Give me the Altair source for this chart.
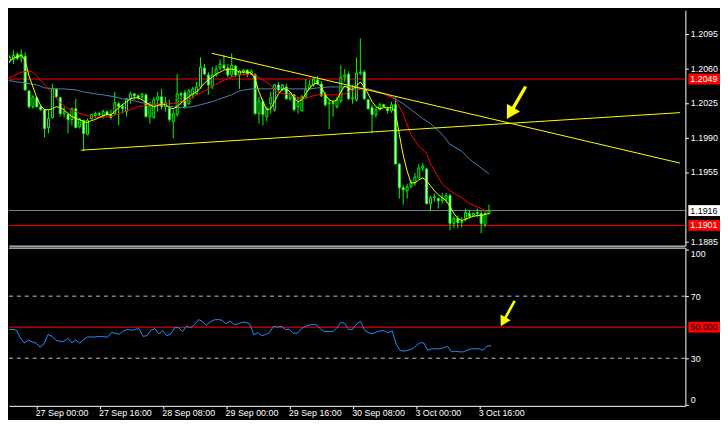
import altair as alt
import pandas as pd

# ---------------- data (EURUSD H1) ----------------
bar_open = [
    1.2067, 1.2069, 1.2074, 1.2071, 1.2072, 1.2037, 1.2021, 1.2030, 1.2021, 1.2018,
    1.2000, 1.2010, 1.2039, 1.2030, 1.2014, 1.2013, 1.2008, 1.2019, 1.2001, 1.2007,
    1.1993, 1.2009, 1.2012, 1.2014, 1.2012, 1.2016, 1.2013, 1.2014, 1.2024, 1.2021,
    1.2016, 1.2029, 1.2034, 1.2032, 1.2031, 1.2033, 1.2011, 1.2010, 1.2028, 1.2031,
    1.2021, 1.2019, 1.2006, 1.2013, 1.2034, 1.2035, 1.2024, 1.2033, 1.2034, 1.2041,
    1.2060, 1.2053, 1.2041, 1.2053, 1.2060, 1.2063, 1.2060, 1.2053, 1.2062, 1.2053,
    1.2056, 1.2058, 1.2054, 1.2054, 1.2014, 1.2026, 1.2011, 1.2024, 1.2018, 1.2043,
    1.2038, 1.2041, 1.2029, 1.2033, 1.2021, 1.2017, 1.2031, 1.2039, 1.2043, 1.2048,
    1.2044, 1.2033, 1.2024, 1.2025, 1.2021, 1.2027, 1.2051, 1.2054, 1.2029, 1.2028,
    1.2055, 1.2056, 1.2028, 1.2020, 1.2013, 1.2018, 1.2023, 1.2019, 1.2017, 1.2023,
    1.1963, 1.1939, 1.1936, 1.1940, 1.1944, 1.1949, 1.1959, 1.1958, 1.1923, 1.1929,
    1.1928, 1.1926, 1.1928, 1.1931, 1.1903, 1.1908, 1.1904, 1.1908, 1.1913, 1.1911,
    1.1913, 1.1913, 1.1902, 1.1913,
]
bar_high = [
    1.2073, 1.2078, 1.2076, 1.2079, 1.2076, 1.2038, 1.2033, 1.2031, 1.2023, 1.2019,
    1.2018, 1.2044, 1.2040, 1.2031, 1.2021, 1.2015, 1.2020, 1.2029, 1.2010, 1.2008,
    1.2009, 1.2013, 1.2016, 1.2016, 1.2018, 1.2017, 1.2018, 1.2036, 1.2026, 1.2024,
    1.2030, 1.2036, 1.2034, 1.2033, 1.2035, 1.2034, 1.2026, 1.2031, 1.2036, 1.2039,
    1.2031, 1.2028, 1.2018, 1.2054, 1.2036, 1.2038, 1.2039, 1.2041, 1.2046, 1.2071,
    1.2064, 1.2056, 1.2061, 1.2063, 1.2069, 1.2073, 1.2064, 1.2075, 1.2063, 1.2058,
    1.2059, 1.2059, 1.2059, 1.2054, 1.2031, 1.2029, 1.2021, 1.2036, 1.2044, 1.2046,
    1.2044, 1.2044, 1.2036, 1.2033, 1.2031, 1.2033, 1.2049, 1.2048, 1.2051, 1.2052,
    1.2047, 1.2036, 1.2029, 1.2028, 1.2031, 1.2063, 1.2059, 1.2057, 1.2043, 1.2071,
    1.2090, 1.2058, 1.2029, 1.2023, 1.2020, 1.2025, 1.2024, 1.2021, 1.2026, 1.2031,
    1.1964, 1.1942, 1.1943, 1.1947, 1.1954, 1.1963, 1.1964, 1.1959, 1.1931, 1.1933,
    1.1929, 1.1934, 1.1934, 1.1933, 1.1910, 1.1911, 1.1909, 1.1918, 1.1916, 1.1914,
    1.1918, 1.1916, 1.1916, 1.1922,
]
bar_low = [
    1.2065, 1.2064, 1.2068, 1.2066, 1.2037, 1.2019, 1.2019, 1.2020, 1.2017, 1.1990,
    1.1994, 1.2009, 1.2030, 1.2011, 1.2010, 1.1994, 1.2002, 1.1999, 1.1999, 1.1976,
    1.1992, 1.2008, 1.2009, 1.2011, 1.2009, 1.2012, 1.2008, 1.2013, 1.2002, 1.2014,
    1.2011, 1.2024, 1.2028, 1.2028, 1.2028, 1.2010, 1.2004, 1.2009, 1.2016, 1.2018,
    1.2016, 1.2006, 1.1989, 1.2011, 1.2023, 1.2019, 1.2023, 1.2029, 1.2033, 1.2039,
    1.2053, 1.2033, 1.2039, 1.2051, 1.2058, 1.2059, 1.2051, 1.2051, 1.2051, 1.2039,
    1.2053, 1.2051, 1.2053, 1.2013, 1.2004, 1.2002, 1.2006, 1.2014, 1.2016, 1.2036,
    1.2037, 1.2028, 1.2027, 1.2016, 1.2014, 1.2016, 1.2029, 1.2038, 1.2041, 1.2043,
    1.2031, 1.2021, 1.1998, 1.2011, 1.2019, 1.2025, 1.2046, 1.2028, 1.2024, 1.2026,
    1.2053, 1.2028, 1.2018, 1.1994, 1.2010, 1.2017, 1.2020, 1.2014, 1.2015, 1.1963,
    1.1928, 1.1922, 1.1928, 1.1939, 1.1941, 1.1949, 1.1956, 1.1922, 1.1916, 1.1925,
    1.1918, 1.1923, 1.1924, 1.1896, 1.1898, 1.1898, 1.1899, 1.1905, 1.1908, 1.1910,
    1.1909, 1.1893, 1.1899, 1.1912,
]
bar_close = [
    1.2071, 1.2073, 1.2070, 1.2074, 1.2038, 1.2021, 1.2031, 1.2021, 1.2018, 1.1999,
    1.2009, 1.2039, 1.2031, 1.2014, 1.2016, 1.2008, 1.2019, 1.2000, 1.2008, 1.1994,
    1.2007, 1.2013, 1.2014, 1.2013, 1.2016, 1.2013, 1.2010, 1.2025, 1.2021, 1.2019,
    1.2029, 1.2034, 1.2032, 1.2030, 1.2034, 1.2011, 1.2022, 1.2028, 1.2031, 1.2021,
    1.2025, 1.2008, 1.2014, 1.2034, 1.2033, 1.2021, 1.2037, 1.2039, 1.2041, 1.2061,
    1.2054, 1.2043, 1.2053, 1.2059, 1.2064, 1.2060, 1.2053, 1.2063, 1.2053, 1.2057,
    1.2058, 1.2054, 1.2057, 1.2014, 1.2027, 1.2013, 1.2019, 1.2030, 1.2043, 1.2038,
    1.2043, 1.2029, 1.2035, 1.2018, 1.2025, 1.2031, 1.2039, 1.2043, 1.2049, 1.2044,
    1.2032, 1.2023, 1.2025, 1.2024, 1.2028, 1.2051, 1.2053, 1.2029, 1.2030, 1.2055,
    1.2056, 1.2029, 1.2019, 1.2013, 1.2018, 1.2023, 1.2021, 1.2017, 1.2023, 1.1963,
    1.1939, 1.1937, 1.1940, 1.1944, 1.1950, 1.1959, 1.1961, 1.1923, 1.1929, 1.1930,
    1.1926, 1.1928, 1.1931, 1.1903, 1.1908, 1.1904, 1.1905, 1.1914, 1.1910, 1.1913,
    1.1914, 1.1903, 1.1913, 1.1916,
]
bar_index = list(range(len(bar_open)))   # hourly bars, 0 = 26 Sep 16:00

# fast MA (yellow)
ma_fast_bar = [-1, 1, 3] + list(range(4, 124))
ma_fast = [
    1.2064, 1.2070, 1.2073,
    1.2068, 1.2052, 1.2041, 1.2030, 1.2022, 1.2018, 1.2018, 1.2019, 1.2021, 1.2020,
    1.2018, 1.2014, 1.2011, 1.2009, 1.2008, 1.2006, 1.2005, 1.2007, 1.2008, 1.2010,
    1.2012, 1.2013, 1.2013, 1.2016, 1.2020, 1.2023, 1.2026, 1.2029, 1.2030, 1.2030,
    1.2028, 1.2025, 1.2023, 1.2021, 1.2022, 1.2024, 1.2023, 1.2020, 1.2019, 1.2021,
    1.2025, 1.2028, 1.2031, 1.2034, 1.2036, 1.2040, 1.2045, 1.2048, 1.2051, 1.2054,
    1.2056, 1.2058, 1.2059, 1.2059, 1.2058, 1.2056, 1.2056, 1.2056, 1.2055, 1.2049,
    1.2036, 1.2026, 1.2018, 1.2019, 1.2026, 1.2034, 1.2039, 1.2039, 1.2036, 1.2030,
    1.2026, 1.2028, 1.2034, 1.2040, 1.2044, 1.2045, 1.2041, 1.2033, 1.2028, 1.2026,
    1.2028, 1.2036, 1.2042, 1.2040, 1.2038, 1.2042, 1.2046, 1.2041, 1.2034, 1.2026,
    1.2021, 1.2019, 1.2020, 1.2020, 1.2020, 1.2016, 1.1993, 1.1972, 1.1956, 1.1944,
    1.1944, 1.1947, 1.1949, 1.1946, 1.1941, 1.1936, 1.1932, 1.1929, 1.1926, 1.1920,
    1.1913, 1.1908, 1.1906, 1.1907, 1.1909, 1.1910, 1.1911, 1.1911, 1.1912, 1.1913,
]
# medium MA (red)
ma_mid_bar = [-1, 1, 3, 5, 6, 7, 9, 11, 13, 15, 17, 19, 21, 23, 26, 28, 31, 33, 36, 38,
              41, 43, 46, 48, 51, 54, 57, 59, 62, 63, 65, 67, 68, 70, 72, 74, 76, 77, 79, 84,
              86, 87, 89, 91, 92, 94, 96, 97, 99, 101, 103, 105, 107, 108, 111, 113, 116, 118, 121, 123]
ma_mid = [1.2049, 1.2052, 1.2056, 1.2057, 1.2056, 1.2052, 1.2043, 1.2034, 1.2025, 1.2019,
          1.2016, 1.2013, 1.2011, 1.2010, 1.2011, 1.2014, 1.2018, 1.2021, 1.2023, 1.2024,
          1.2024, 1.2025, 1.2028, 1.2033, 1.2039, 1.2046, 1.2051, 1.2053, 1.2054, 1.2053,
          1.2048, 1.2043, 1.2038, 1.2034, 1.2033, 1.2030, 1.2029, 1.2031, 1.2033, 1.2033,
          1.2034, 1.2036, 1.2038, 1.2039, 1.2038, 1.2036, 1.2034, 1.2032, 1.2029, 1.2013,
          1.1993, 1.1981, 1.1974, 1.1963, 1.1943, 1.1936, 1.1929, 1.1923, 1.1918, 1.1914]
# slow MA (steel blue)
ma_slow_bar = [-1, 2, 4, 7, 9, 12, 14, 17, 19, 22, 24, 27, 29, 32, 34, 37, 39, 42, 44, 47,
               49, 52, 54, 57, 59, 62, 64, 67, 69, 72, 74, 77, 79, 82, 84, 87, 89, 92, 94, 97,
               99, 101, 103, 106, 108, 111, 113, 116, 118, 121, 123]
ma_slow = [1.2048, 1.2046, 1.2045, 1.2043, 1.2040, 1.2039, 1.2039, 1.2038, 1.2036, 1.2034,
           1.2033, 1.2031, 1.2029, 1.2027, 1.2025, 1.2023, 1.2022, 1.2021, 1.2020, 1.2021,
           1.2023, 1.2026, 1.2029, 1.2033, 1.2037, 1.2039, 1.2039, 1.2039, 1.2040, 1.2039,
           1.2039, 1.2039, 1.2040, 1.2041, 1.2041, 1.2041, 1.2040, 1.2039, 1.2037, 1.2033,
           1.2029, 1.2024, 1.2018, 1.2009, 1.2004, 1.1993, 1.1983, 1.1976, 1.1968, 1.1959,
           1.1953]

# RSI, one value per bar
rsi_values = [
    47.3, 48.5, 48.5, 48.1, 43.1, 39.7, 41.7, 40.5, 39.7, 37.1,
    39.3, 45.3, 44.1, 41.5, 40.9, 40.9, 42.9, 39.9, 41.7, 39.7,
    42.1, 43.7, 43.7, 43.7, 44.1, 43.9, 43.5, 46.5, 46.1, 45.5,
    47.5, 48.5, 48.1, 48.5, 49.1, 44.1, 44.5, 48.1, 49.1, 45.7,
    47.7, 44.5, 45.7, 49.7, 49.7, 47.1, 50.7, 49.7, 51.5, 54.9,
    53.7, 51.1, 53.5, 54.7, 54.9, 54.5, 52.1, 54.1, 51.7, 52.1,
    53.1, 53.1, 52.1, 45.1, 46.5, 44.5, 45.3, 46.5, 50.7, 50.1,
    50.5, 48.5, 48.7, 46.1, 46.1, 48.9, 50.5, 51.3, 51.9, 51.3,
    48.5, 47.1, 47.1, 47.3, 49.5, 53.1, 52.5, 48.5, 48.7, 52.1,
    53.7, 48.1, 46.5, 45.7, 46.9, 47.7, 47.7, 46.5, 47.7, 39.1,
    35.1, 34.5, 35.3, 35.9, 38.0, 40.0, 39.8, 35.1, 36.1, 36.1,
    36.1, 36.7, 37.7, 34.1, 34.5, 34.1, 34.1, 35.3, 36.1, 36.1,
    36.1, 35.1, 37.8, 38.1,
]
rsi_bar = list(range(len(rsi_values)))

# trend lines (two anchor points each)
trend_name = ["upper", "upper", "lower", "lower"]
trend_bar = [51.9, 172.0, 18.3, 172.0]
trend_price = [1.2075, 1.1964, 1.1977, 1.2015]

# horizontal lines / price labels
red_levels = [1.2049, 1.1901]
bid_price = 1.1916
rsi_mid_level = [50]
rsi_dash_levels = [30, 70]

# arrows (centre position)
arrow_price_at = {"bar": [130.0], "price": [1.2025]}
arrow_rsi_at = {"bar": [127.2], "rsi": [58.8]}

# axes (1.1920 sits behind the bid label box in the reference)
price_ticks = [1.2095, 1.2060, 1.2025, 1.1990, 1.1955, 1.1885]
rsi_ticks = [0, 30, 70, 100]
time_tick_bars = [8, 24, 40, 56, 72, 88, 104, 120]
time_tick_labels = ["27 Sep 00:00", "27 Sep 16:00", "28 Sep 08:00", "29 Sep 00:00",
                    "29 Sep 16:00", "30 Sep 08:00", "3 Oct 00:00", "3 Oct 16:00"]

# ---------------- layout / style ----------------
FONT = "Liberation Sans"
LIME, YELLOW, RED = "#00ff00", "#ffff00", "#ff0000"
STEEL, RSI_BLUE, BID_GRAY, LEVEL_GRAY = "#4682b4", "#1e90ff", "#778899", "#c0c0c0"

W = 684
H_PRICE = 238
H_RSI = 160
K_MIN = 1.125
K_MAX = K_MIN + W / 4
P_MAX = 1.21185
P_MIN = P_MAX - H_PRICE / 10000
R_MIN, R_MAX = -0.7, 101.3
BOX_P = 0.00055
BOX_R = 5.5 * (R_MAX - R_MIN) / H_RSI
ARROW = "M-0.09,-1L0.09,-1L0.09,0.3L0.4,0.3L0,1L-0.4,0.3L-0.09,0.3Z"

candles = pd.DataFrame({"bar": bar_index, "open": bar_open, "high": bar_high,
                        "low": bar_low, "close": bar_close})
fast_df = pd.DataFrame({"bar": ma_fast_bar, "price": ma_fast})
mid_df = pd.DataFrame({"bar": ma_mid_bar, "price": ma_mid})
slow_df = pd.DataFrame({"bar": ma_slow_bar, "price": ma_slow})
trend_df = pd.DataFrame({"line": trend_name, "bar": trend_bar, "price": trend_price})
red_df = pd.DataFrame({"price": red_levels})
bid_df = pd.DataFrame({"price": [bid_price]})
red_box = pd.DataFrame({"price": red_levels,
                        "lo": [v - BOX_P for v in red_levels],
                        "hi": [v + BOX_P for v in red_levels]})
bid_box = pd.DataFrame({"price": [bid_price], "lo": [bid_price - BOX_P], "hi": [bid_price + BOX_P]})
arrow_p_df = pd.DataFrame(arrow_price_at)

rsi_df = pd.DataFrame({"bar": rsi_bar, "rsi": rsi_values})
rsi_mid_df = pd.DataFrame({"rsi": rsi_mid_level})
rsi_dash_df = pd.DataFrame({"rsi": rsi_dash_levels})
rsi_top_df = pd.DataFrame({"rsi": [R_MAX]})
rsi_box = pd.DataFrame({"rsi": rsi_mid_level,
                        "lo": [v - BOX_R for v in rsi_mid_level],
                        "hi": [v + BOX_R for v in rsi_mid_level]})
arrow_r_df = pd.DataFrame(arrow_rsi_at)

xs = alt.Scale(domain=[K_MIN, K_MAX], nice=False, zero=False)
ps = alt.Scale(domain=[P_MIN, P_MAX], nice=False, zero=False)
rs = alt.Scale(domain=[R_MIN, R_MAX], nice=False, zero=False)

lab_common = dict(labelFont=FONT, labelFontSize=9, labelColor="white", tickColor="white",
                  domainColor="white", grid=False, title=None)

xa_price = alt.Axis(labels=False, ticks=False, domain=True, **lab_common)
label_expr = ("[" + ",".join(f"'{s}'" for s in time_tick_labels) + "][indexof(["
              + ",".join(str(v) for v in time_tick_bars) + "], datum.value)]")
xa_rsi = alt.Axis(values=time_tick_bars, labelExpr=label_expr, labelAlign="left",
                  labelBaseline="top", labelOffset=-1, labelPadding=0, tickSize=3,
                  labelOverlap=False, labelFlush=False, **lab_common)
ya_price = alt.Axis(orient="right", values=price_ticks, format=".4f", tickSize=3,
                    labelPadding=2, labelFlush=False, labelOverlap=False, **lab_common)
ya_rsi = alt.Axis(orient="right", values=rsi_ticks, format="d", tickSize=3,
                  labelPadding=2, labelFlush=3, labelOverlap=False, **lab_common)


def xp(field="bar"):
    return alt.X(f"{field}:Q", scale=xs, axis=xa_price)


def yp(field):
    return alt.Y(f"{field}:Q", scale=ps, axis=ya_price)


def xr(field="bar"):
    return alt.X(f"{field}:Q", scale=xs, axis=xa_rsi)


def yr(field):
    return alt.Y(f"{field}:Q", scale=rs, axis=ya_rsi)


# ---------------- price panel ----------------
red_lines = alt.Chart(red_df).mark_rule(color=RED, strokeWidth=1).encode(y=yp("price"))
bid_line = alt.Chart(bid_df).mark_rule(color=BID_GRAY, strokeWidth=1).encode(y=yp("price"))
wicks = alt.Chart(candles).mark_rule(color=LIME, strokeWidth=1, clip=True).encode(
    x=xp(), y=yp("low"), y2="high:Q")
bodies = alt.Chart(candles).mark_bar(size=2, stroke=LIME, strokeWidth=1, clip=True).encode(
    x=xp(), y=yp("open"), y2="close:Q",
    fill=alt.condition("datum.close < datum.open", alt.value("#ffffff"), alt.value("#000000")))
slow_line = alt.Chart(slow_df).mark_line(color=STEEL, strokeWidth=1, clip=True).encode(
    x=xp(), y=yp("price"))
mid_line = alt.Chart(mid_df).mark_line(color=RED, strokeWidth=1, clip=True).encode(
    x=xp(), y=yp("price"))
fast_line = alt.Chart(fast_df).mark_line(color=YELLOW, strokeWidth=1, clip=True).encode(
    x=xp(), y=yp("price"))
trend_lines = alt.Chart(trend_df).mark_line(color=YELLOW, strokeWidth=1, clip=True).encode(
    x=xp(), y=yp("price"), detail="line:N")
arrow_p = alt.Chart(arrow_p_df).mark_point(shape=ARROW, size=1444, angle=30, filled=True,
                                           color=YELLOW, opacity=1, strokeWidth=0).encode(
    x=xp(), y=yp("price"))
red_boxes = alt.Chart(red_box).mark_rect(color=RED).encode(
    x=alt.value(W + 3), x2=alt.value(W + 35), y=yp("lo"), y2="hi:Q")
bid_boxes = alt.Chart(bid_box).mark_rect(color="#ffffff").encode(
    x=alt.value(W + 3), x2=alt.value(W + 35), y=yp("lo"), y2="hi:Q")
red_texts = alt.Chart(red_box).mark_text(align="left", baseline="middle", font=FONT,
                                         fontSize=9, color="#ffffff").encode(
    x=alt.value(W + 5), y=yp("price"), text=alt.Text("price:Q", format=".4f"))
bid_texts = alt.Chart(bid_box).mark_text(align="left", baseline="middle", font=FONT,
                                         fontSize=9, color="#000000").encode(
    x=alt.value(W + 5), y=yp("price"), text=alt.Text("price:Q", format=".4f"))

price_panel = alt.layer(
    red_lines, bid_line, wicks, bodies, slow_line, mid_line, fast_line, trend_lines,
    arrow_p, red_boxes, bid_boxes, red_texts, bid_texts
).properties(width=W, height=H_PRICE)

# ---------------- RSI panel ----------------
rsi_top = alt.Chart(rsi_top_df).mark_rule(color="#ffffff", strokeWidth=1, yOffset=0.5).encode(
    y=yr("rsi"))
rsi_dash = alt.Chart(rsi_dash_df).mark_rule(color=LEVEL_GRAY, strokeWidth=1,
                                            strokeDash=[4, 4]).encode(y=yr("rsi"))
rsi_mid = alt.Chart(rsi_mid_df).mark_rule(color=RED, strokeWidth=1).encode(y=yr("rsi"))
rsi_line = alt.Chart(rsi_df).mark_line(color=RSI_BLUE, strokeWidth=1, clip=True).encode(
    x=xr(), y=yr("rsi"))
arrow_r = alt.Chart(arrow_r_df).mark_point(shape=ARROW, size=858, angle=28.5, filled=True,
                                           color=YELLOW, opacity=1, strokeWidth=0).encode(
    x=xr(), y=yr("rsi"))
rsi_box_mark = alt.Chart(rsi_box).mark_rect(color=RED).encode(
    x=alt.value(W + 3), x2=alt.value(W + 35), y=yr("lo"), y2="hi:Q")
rsi_box_text = alt.Chart(rsi_box).mark_text(align="left", baseline="middle", font=FONT,
                                            fontSize=9, color="#000000", limit=30,
                                            ellipsis="\u200b").encode(
    x=alt.value(W + 5), y=yr("rsi"), text=alt.Text("rsi:Q", format=".4f"))

rsi_panel = alt.layer(
    rsi_top, rsi_dash, rsi_mid, rsi_line, arrow_r, rsi_box_mark, rsi_box_text
).properties(width=W, height=H_RSI)

chart = (
    alt.vconcat(price_panel, rsi_panel, spacing=1)
    .resolve_scale(x="independent", y="independent")
    .properties(padding=0, background="#000000")
    .configure_view(strokeWidth=0)
)

chart.save("out.html", embed_options={"renderer": "svg", "actions": False})
